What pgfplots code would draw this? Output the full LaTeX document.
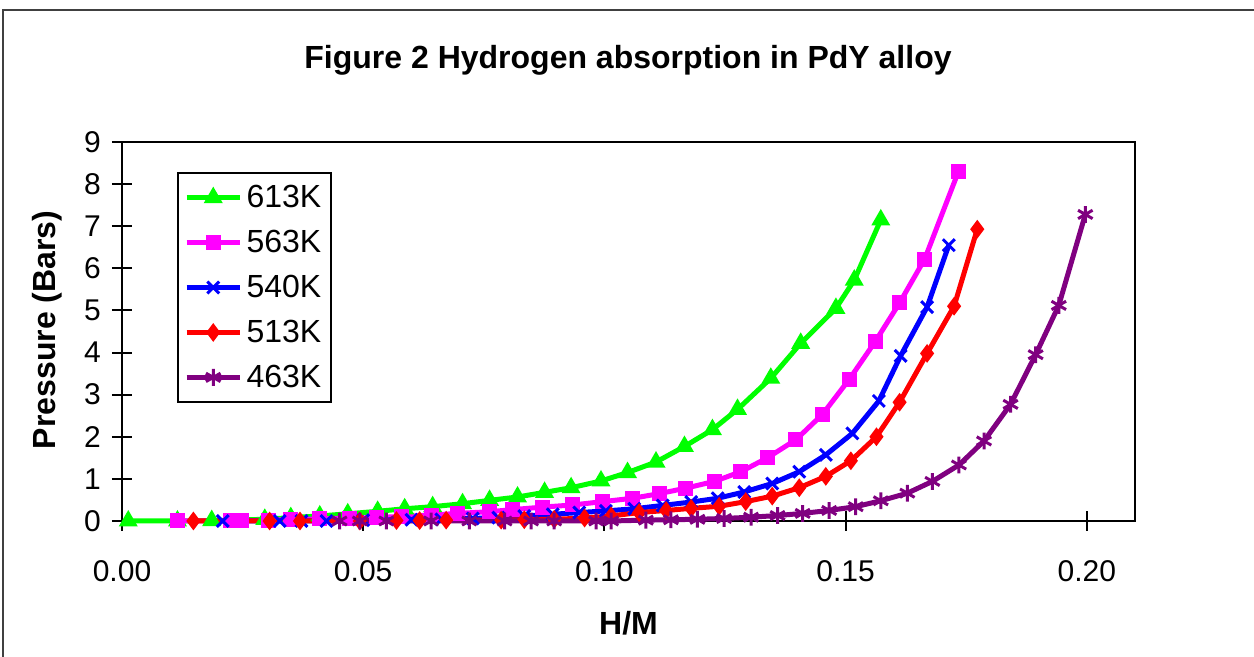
\documentclass[border=0pt]{standalone}
\usepackage{pgfplots}
\pgfplotsset{compat=1.18}
\usepackage{fontspec}
\setmainfont{Liberation Sans}
\definecolor{cgreen}{RGB}{0,255,0}
\definecolor{cmag}{RGB}{255,0,255}
\definecolor{cblue}{RGB}{0,0,255}
\definecolor{cred}{RGB}{255,0,0}
\definecolor{cpurp}{RGB}{128,0,128}
\begin{document}
\begin{tikzpicture}
\useasboundingbox (0,0) rectangle (627pt,328.5pt);
\draw[black!75, line width=0.8pt] (1.5pt,-5pt) -- (1.5pt,323.5pt) -- (635pt,323.5pt);
\node[font=\bfseries\fontsize{16}{18}\selectfont] at (314pt,298.5pt) {Figure 2 Hydrogen absorption in PdY alloy};
\begin{axis}[
  at={(61pt,68pt)}, anchor=south west,
  scale only axis, width=506.5pt, height=189.5pt,
  xmin=0, xmax=0.21, ymin=0, ymax=9,
  xtick={0,0.05,0.1,0.15,0.2},
  ytick={0,1,...,9},
  xtick pos=bottom, ytick pos=left,
  minor tick num=0,
  tick align=center,
  major tick length=10pt,
  axis line style={line width=1.1pt},
  every tick/.style={black, line width=1pt},
  tick label style={font=\fontsize{15}{17}\selectfont},
  /pgf/number format/assume math mode=true,
  xticklabel style={/pgf/number format/fixed, /pgf/number format/fixed zerofill, /pgf/number format/precision=2, yshift=-11pt},
  yticklabel style={xshift=-2pt},
  xlabel={H/M}, ylabel={Pressure (Bars)},
  label style={font=\bfseries\fontsize{16}{18}\selectfont},
  xlabel style={at={(axis description cs:0.5,-0.269)}, anchor=center},
  ylabel style={at={(axis description cs:-0.074,0.504)}, anchor=center},
  clip=false,
  legend style={at={(axis description cs:0.0543,0.921)}, anchor=north west,
    draw=black, line width=1pt, font=\fontsize{16}{18}\selectfont,
    row sep=5.8pt, inner xsep=3pt, inner ysep=4pt},
  legend cell align=left,
  legend image code/.code={%
    \draw[mark repeat=2,mark phase=2] plot coordinates {(0cm,0cm) (0.47cm,0cm) (0.94cm,0cm)};},
  every axis plot/.append style={line width=2.5pt, mark options={solid, line width=1.1pt}},
]
\addplot[cgreen, mark=triangle*, mark size=4.4pt] coordinates {
(0.0013,0) (0.0115,0) (0.0186,0.01) (0.0296,0.04) (0.035,0.08) (0.041,0.12) (0.0468,0.17)
(0.053,0.23) (0.0586,0.29) (0.0644,0.34) (0.0706,0.41) (0.0762,0.49) (0.082,0.57)
(0.0876,0.68) (0.0931,0.79) (0.0993,0.95) (0.1048,1.15) (0.1107,1.40) (0.1166,1.77)
(0.1224,2.17) (0.1276,2.65) (0.1345,3.39) (0.1407,4.22) (0.148,5.05) (0.1518,5.72) (0.1573,7.15)};
\addlegendentry{613K}
\addplot[cmag, mark=square*, mark size=3.2pt] coordinates {
(0.0116,0) (0.0224,0) (0.0248,0) (0.0303,0.02) (0.035,0.03) (0.041,0.05) (0.0472,0.07)
(0.0527,0.08) (0.058,0.11) (0.0641,0.14) (0.0696,0.18) (0.0762,0.22) (0.081,0.27)
(0.0872,0.33) (0.0934,0.38) (0.0997,0.46) (0.1059,0.54) (0.1114,0.65) (0.1169,0.78)
(0.1228,0.94) (0.1283,1.17) (0.1338,1.50) (0.1397,1.93) (0.1452,2.53) (0.1508,3.37)
(0.1562,4.27) (0.1612,5.18) (0.1664,6.22) (0.1734,8.30)};
\addlegendentry{563K}
\addplot[cblue, mark=x, mark size=4.2pt, mark options={line width=1.5pt}] coordinates {
(0.0209,0) (0.0327,0) (0.0372,0) (0.0424,0) (0.05,0.02) (0.06,0.03) (0.0662,0.04)
(0.0727,0.06) (0.078,0.08) (0.0834,0.12) (0.0893,0.16) (0.0948,0.2) (0.1003,0.24)
(0.1062,0.29) (0.1121,0.37) (0.118,0.45) (0.1235,0.54) (0.129,0.69) (0.1348,0.89)
(0.1404,1.17) (0.1459,1.57) (0.1514,2.08) (0.1569,2.85) (0.1614,3.92) (0.1669,5.08) (0.1714,6.55)};
\addlegendentry{540K}
\addplot[cred, mark=diamond*, mark size=3.8pt] coordinates {
(0.0148,0) (0.0306,0) (0.0369,0) (0.0493,0) (0.0569,0.01) (0.0617,0.01) (0.0672,0.02)
(0.0786,0.02) (0.0834,0.03) (0.0896,0.04) (0.0959,0.07) (0.1014,0.12) (0.1072,0.2)
(0.1128,0.25) (0.118,0.3) (0.1238,0.35) (0.1293,0.46) (0.1348,0.59) (0.1404,0.79)
(0.1459,1.06) (0.1511,1.43) (0.1564,2.00) (0.1612,2.82) (0.1669,3.98) (0.1725,5.10) (0.1773,6.93)};
\addlegendentry{513K}
\addplot[cpurp, mark=asterisk, mark size=4.2pt, mark options={line width=1.5pt}] coordinates {
(0.0451,0) (0.0493,0) (0.0548,0) (0.0641,0) (0.072,0) (0.0793,0) (0.0848,0) (0.0896,0)
(0.0983,0) (0.1014,0) (0.1086,0.02) (0.1138,0.03) (0.1193,0.04) (0.1248,0.06) (0.1304,0.09)
(0.1359,0.13) (0.1411,0.18) (0.1466,0.25) (0.1521,0.34) (0.1573,0.48) (0.1628,0.66)
(0.168,0.94) (0.1735,1.33) (0.1787,1.90) (0.1842,2.77) (0.1894,3.95) (0.1942,5.12) (0.1997,7.28)};
\addlegendentry{463K}
\end{axis}
\end{tikzpicture}
\end{document}
